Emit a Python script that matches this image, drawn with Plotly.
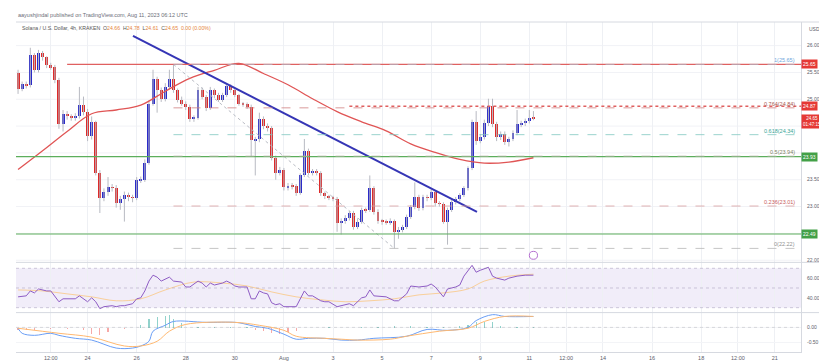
import plotly.graph_objects as go
import pandas as pd

# ---------------- DATA ----------------
start_time = "2023-07-21 04:00"   # first 4h candle
open_first = 25.49
close = [25.19, 25.28, 25.26, 25.82, 25.54, 25.87, 25.78, 25.63, 25.60, 25.36,
         24.53, 24.73, 24.68, 24.66, 24.68, 24.90, 24.77, 24.31, 24.57, 23.63,
         23.16, 23.27, 23.36, 23.35, 23.06, 23.14, 23.21, 23.17, 23.16, 23.49,
         23.50, 23.82, 24.92, 25.38, 25.17, 25.01, 25.23, 25.38, 25.17, 24.99,
         24.92, 24.86, 24.64, 24.66, 25.17, 25.05, 24.83, 25.17, 25.08, 24.99,
         25.08, 25.25, 25.17, 25.08, 24.92, 24.91, 24.86, 24.24, 24.26, 24.64,
         24.50, 24.46, 23.91, 23.63, 23.69, 23.36, 23.39, 23.38, 23.25, 23.58,
         24.04, 23.63, 23.65, 23.63, 23.25, 23.19, 23.16, 23.15, 22.70, 22.73,
         22.79, 22.88, 22.62, 22.72, 22.94, 22.93, 23.34, 22.90, 22.73, 22.72,
         22.71, 22.73, 22.53, 22.57, 22.62, 22.81, 22.99, 23.17, 22.97, 23.17,
         23.16, 23.27, 23.06, 23.05, 22.72, 22.94, 23.08, 23.14, 23.21, 23.34,
         23.71, 24.57, 24.22, 24.29, 24.55, 24.88, 24.53, 24.29, 24.35, 24.20,
         24.26, 24.37, 24.53, 24.55, 24.59, 24.66, 24.65]
high = [25.55, 25.33, 25.33, 25.96, 25.86, 25.92, 25.90, 25.80, 25.68, 25.64,
        25.40, 24.80, 24.78, 24.72, 24.74, 25.23, 25.05, 24.82, 24.68, 24.60,
        23.68, 23.34, 23.55, 23.42, 23.40, 23.20, 23.28, 23.26, 23.22, 23.55,
        23.56, 23.88, 24.98, 25.55, 25.42, 25.22, 25.30, 25.55, 25.65, 25.20,
        25.05, 24.96, 24.90, 24.70, 25.23, 25.22, 25.08, 25.23, 25.20, 25.12,
        25.12, 25.30, 25.28, 25.20, 25.10, 24.95, 24.94, 24.90, 24.30, 24.75,
        24.68, 24.55, 24.50, 23.95, 23.74, 23.72, 23.44, 23.44, 23.42, 23.62,
        24.26, 24.08, 23.70, 23.70, 23.66, 23.28, 23.22, 23.20, 23.18, 22.78,
        22.84, 22.92, 22.92, 22.78, 22.98, 22.98, 23.58, 23.38, 22.95, 22.77,
        22.76, 22.78, 22.76, 22.62, 22.66, 22.85, 23.03, 23.45, 23.22, 23.22,
        23.22, 23.32, 23.30, 23.10, 23.08, 22.98, 23.12, 23.18, 23.25, 23.38,
        23.75, 24.62, 24.78, 24.35, 24.62, 25.01, 25.01, 24.58, 24.40, 24.40,
        24.30, 24.42, 24.80, 24.60, 24.64, 24.80, 24.78]
low = [25.10, 25.15, 25.20, 25.22, 25.50, 25.50, 25.72, 25.58, 25.55, 25.30,
       24.45, 24.40, 24.62, 24.60, 24.60, 24.64, 24.70, 24.22, 24.25, 23.58,
       22.88, 23.10, 23.20, 23.28, 22.98, 22.94, 22.72, 23.10, 23.08, 23.12,
       23.44, 23.46, 23.78, 24.88, 24.75, 24.95, 24.96, 25.18, 25.12, 24.94,
       24.88, 24.80, 24.58, 24.58, 24.62, 25.00, 24.78, 24.80, 25.02, 24.95,
       24.95, 25.04, 25.12, 25.04, 24.88, 24.86, 24.82, 23.94, 23.58, 24.20,
       24.44, 24.40, 23.86, 23.50, 23.58, 23.30, 23.30, 23.32, 23.20, 23.22,
       23.55, 23.58, 23.58, 23.58, 23.20, 23.14, 23.12, 23.10, 22.53, 22.48,
       22.68, 22.74, 22.57, 22.58, 22.68, 22.88, 22.90, 22.85, 22.68, 22.66,
       22.66, 22.66, 22.22, 22.40, 22.52, 22.58, 22.77, 22.95, 22.92, 22.93,
       23.10, 23.12, 23.00, 23.00, 22.68, 22.29, 22.90, 23.04, 23.10, 23.18,
       23.30, 23.68, 24.15, 24.18, 24.25, 24.50, 24.48, 24.22, 24.24, 24.15,
       24.12, 24.22, 24.33, 24.48, 24.50, 24.55, 24.61]

# red moving average, read at candle indices
ma_idx = [0, 6, 12, 18, 24, 30, 36, 42, 48, 54, 60, 66, 72, 78, 84, 90, 96, 102, 108, 114, 120, 126]
ma_val = [23.69, 24.04, 24.40, 24.73, 24.80, 24.89, 25.15, 25.39, 25.54, 25.67, 25.48,
          25.27, 25.01, 24.77, 24.58, 24.41, 24.17, 24.01, 23.88, 23.81, 23.83, 23.91]

# RSI readings (candle index, value)
rsi_idx = [0, 2, 3, 4, 5, 7, 8, 9, 10, 11, 13, 14, 15, 16, 17, 18, 19, 20, 21, 23, 24, 25, 26,
           28, 29, 30, 31, 32, 33, 34, 35, 37, 38, 40, 41, 42, 44, 45, 46, 47, 48, 50, 51, 52,
           53, 54, 56, 57, 58, 59, 60, 61, 62, 63, 64, 65, 67, 68, 70, 71, 72, 74, 75, 76, 78,
           79, 81, 82, 84, 85, 86, 87, 89, 90, 92, 93, 95, 96, 98, 100, 101, 102, 104, 105,
           107, 108, 109, 111, 112, 113, 115, 116, 117, 119, 120, 122, 124, 126]
rsi_val = [41, 42, 47, 45, 49, 47, 47, 42, 36, 39, 39, 39, 42, 39, 36, 40, 36, 29, 31, 32, 31,
           32, 32, 34, 39, 40, 47, 57, 63, 61, 57, 61, 57, 56, 51, 51, 57, 55, 51, 55, 53, 55,
           57, 55, 52, 51, 51, 39, 39, 47, 45, 44, 35, 33, 34, 31, 31, 31, 47, 42, 42, 37, 36,
           36, 31, 32, 34, 32, 40, 41, 48, 42, 41, 41, 37, 37, 44, 52, 51, 52, 54, 51, 41, 49,
           51, 53, 62, 73, 66, 68, 71, 62, 60, 58, 60, 62, 63, 63]
rsi_ma_idx = [0, 6, 12, 18, 24, 30, 36, 43, 50, 56, 62, 68, 74, 80, 86, 92, 98, 104, 110, 114, 120, 126]
rsi_ma_val = [48, 47, 44, 41, 37, 39, 48, 56, 55, 52, 46, 41, 38, 36, 37, 39, 43, 45, 49, 57, 62, 64]

# MACD readings
macd_idx = [0, 1, 4, 8, 10, 14, 18, 24, 28, 30, 32, 33, 36, 38, 46, 53, 55, 58, 61, 65, 68,
            71, 75, 79, 83, 87, 95, 100, 105, 110, 112, 116, 119, 126]
macd_val = [-0.03, -0.20, -0.27, -0.20, -0.27, -0.37, -0.43, -0.70, -0.70, -0.63, -0.47,
            -0.13, 0.07, 0.20, 0.17, 0.17, 0.13, 0.03, -0.03, -0.23, -0.40, -0.37, -0.37,
            -0.43, -0.43, -0.37, -0.30, -0.07, -0.10, 0.00, 0.23, 0.43, 0.37, 0.37]
signal_idx = [0, 10, 18, 26, 30, 34, 37, 41, 53, 59, 65, 68, 75, 79, 83, 91, 95, 103, 110, 114, 119, 126]
signal_val = [-0.03, -0.20, -0.33, -0.63, -0.63, -0.47, -0.13, 0.10, 0.17, 0.07, -0.10,
              -0.30, -0.37, -0.40, -0.43, -0.40, -0.30, -0.13, -0.03, 0.20, 0.37, 0.37]
hist_idx = [0, 2, 4, 8, 12, 16, 18, 20, 22, 26, 30, 32, 34, 36, 37, 38, 40, 44, 48, 52, 56,
            58, 60, 62, 64, 66, 68, 72, 76, 80, 84, 88, 92, 96, 100, 104, 108, 110, 112, 114,
            116, 118, 122, 126]
hist_val = [-0.08, -0.08, -0.06, -0.03, -0.03, -0.08, -0.20, -0.25, -0.15, -0.05, 0.10, 0.30,
            0.35, 0.40, 0.43, 0.30, 0.15, 0.04, 0.03, 0.03, 0.02, -0.08, -0.12, -0.18, -0.20,
            -0.15, -0.10, -0.02, 0.02, -0.02, 0.02, 0.04, 0.05, 0.05, 0.03, 0.03, 0.05, 0.08,
            0.18, 0.20, 0.20, 0.06, 0.03, 0.02]

# levels
res_top = 25.65          # red solid resistance
res_mid = 24.87          # red resistance (dotted)
sup_hi = 23.93           # green support
sup_lo = 22.49           # green support
fib_levels = [1, 0.764, 0.618, 0.5, 0.236, 0]
fib_prices = [25.65, 24.84, 24.34, 23.94, 23.01, 22.22]
fib_label_colors = ["#6fa8dc", "#a85a50", "#3aa597", "#7d7f62", "#c86060", "#909090"]
fib_line_colors = ["#b0b8c8", "#d08080", "#80c8c0", "#b8b8a8", "#d8a0a0", "#b8b8b8"]
fib_start_idx = 38
fib_low_idx = 92
res_top_start_idx = 12
res_mid_start_idx = 81
trend_idx = [28.1, 112.2]
trend_price = [26.18, 22.90]
event_idx = 126

x_ticks = ["2023-07-22 12:00", "2023-07-24", "2023-07-26", "2023-07-28", "2023-07-30",
           "2023-08-01", "2023-08-03", "2023-08-05", "2023-08-07", "2023-08-09", "2023-08-11",
           "2023-08-12 12:00", "2023-08-14", "2023-08-16", "2023-08-18", "2023-08-19 12:00",
           "2023-08-21"]
x_tick_text = ["12:00", "24", "26", "28", "30", "Aug", "3", "5", "7", "9", "11", "12:00",
               "14", "16", "18", "12:00", "21"]
x_range = ["2023-07-21 02:00", "2023-08-22 01:40"]
price_ticks = [22.0, 23.0, 23.5, 25.0, 25.5, 26.0]
price_grid = [22.0, 22.5, 23.0, 23.5, 24.0, 24.5, 25.0, 25.5, 26.0]

# ---------------- BUILD ----------------
t0 = pd.Timestamp(start_time)
step = pd.Timedelta(hours=4)
n = len(close)
times = [t0 + step * i for i in range(n)]
opens = [open_first] + close[:-1]


def t_at(i):
    return t0 + step * i


UP = "#2b2bc8"
DN = "#dd2a2a"
GRID = "#eef0f4"
AX = "#d6d9e0"
TXT = "#5d606b"
FONT = "Liberation Sans, Arial, sans-serif"

fig = go.Figure()

# wicks
wx, wy = [], []
for i in range(n):
    wx += [times[i], times[i], None]
    wy += [low[i], high[i], None]
fig.add_trace(go.Scatter(x=wx, y=wy, mode="lines", line=dict(color="#b8bac2", width=1),
                         hoverinfo="skip", showlegend=False, xaxis="x", yaxis="y"))

# bodies
base = [min(o, c) for o, c in zip(opens, close)]
height = [max(abs(c - o), 0.012) for o, c in zip(opens, close)]
colors = [UP if c >= o else DN for o, c in zip(opens, close)]
fig.add_trace(go.Bar(x=times, y=height, base=base, width=4 * 3600 * 1000 * 0.72,
                     marker=dict(color=colors, line=dict(width=0)), showlegend=False,
                     xaxis="x", yaxis="y"))

# moving average
fig.add_trace(go.Scatter(x=[t_at(i) for i in ma_idx], y=ma_val, mode="lines",
                         line=dict(color="#e05555", width=1.3, shape="spline"),
                         showlegend=False, xaxis="x", yaxis="y"))

# trend line
fig.add_trace(go.Scatter(x=[t_at(i) for i in trend_idx], y=trend_price, mode="lines",
                         line=dict(color="#3535b5", width=2), showlegend=False,
                         xaxis="x", yaxis="y"))

# fib diagonal
fig.add_trace(go.Scatter(x=[t_at(fib_start_idx), t_at(fib_low_idx)],
                         y=[fib_prices[0], fib_prices[-1]], mode="lines",
                         line=dict(color="#b8bbc3", width=1, dash="dot"), showlegend=False,
                         xaxis="x", yaxis="y"))

# RSI
fig.add_trace(go.Scatter(x=[t_at(i) for i in rsi_ma_idx], y=rsi_ma_val, mode="lines",
                         line=dict(color="rgba(255,183,77,0.55)", width=1, shape="spline"),
                         showlegend=False, xaxis="x", yaxis="y2"))
fig.add_trace(go.Scatter(x=[t_at(i) for i in rsi_idx], y=rsi_val, mode="lines",
                         line=dict(color="#8e5cc4", width=1), showlegend=False,
                         xaxis="x", yaxis="y2"))

# MACD
hcol = ["rgba(38,166,154,0.5)" if v >= 0 else "rgba(239,83,80,0.5)" for v in hist_val]
fig.add_trace(go.Bar(x=[t_at(i) for i in hist_idx], y=hist_val, width=4 * 3600 * 1000 * 0.3,
                     marker=dict(color=hcol, line=dict(width=0)), showlegend=False,
                     xaxis="x", yaxis="y3"))
fig.add_trace(go.Scatter(x=[t_at(i) for i in macd_idx], y=macd_val, mode="lines",
                         line=dict(color="#6a9ef5", width=1, shape="spline"),
                         showlegend=False, xaxis="x", yaxis="y3"))
fig.add_trace(go.Scatter(x=[t_at(i) for i in signal_idx], y=signal_val, mode="lines",
                         line=dict(color="#ffb870", width=1, shape="spline"),
                         showlegend=False, xaxis="x", yaxis="y3"))

shapes = []
x_end = pd.Timestamp(x_range[1])
# faint price grid
for g in price_grid:
    shapes.append(dict(type="line", xref="paper", yref="y", x0=0, x1=1, y0=g, y1=g,
                       line=dict(color="#f1f2f6", width=1), layer="below"))
# horizontal levels
shapes.append(dict(type="line", xref="x", yref="y", x0=t_at(res_top_start_idx), x1=x_end,
                   y0=res_top, y1=res_top, line=dict(color="#e06060", width=1.3)))
shapes.append(dict(type="line", xref="x", yref="y", x0=t_at(res_mid_start_idx), x1=x_end,
                   y0=res_mid, y1=res_mid, line=dict(color="#e06060", width=1.4, dash="dot")))
for lv in (sup_hi, sup_lo):
    shapes.append(dict(type="line", xref="paper", yref="y", x0=0, x1=1, y0=lv, y1=lv,
                       line=dict(color="#5cae5c", width=1.1)))
for p, col in zip(fib_prices, fib_line_colors):
    shapes.append(dict(type="line", xref="x", yref="y", x0=t_at(fib_start_idx), x1=x_end,
                       y0=p, y1=p, line=dict(color=col, width=0.8, dash="dash")))
# RSI band
shapes.append(dict(type="rect", xref="paper", yref="y2", x0=0, x1=1, y0=30, y1=70,
                   fillcolor="rgba(149,117,205,0.13)", line=dict(width=0), layer="below"))
for lv in (30, 50, 70):
    shapes.append(dict(type="line", xref="paper", yref="y2", x0=0, x1=1, y0=lv, y1=lv,
                       line=dict(color="rgba(150,140,175,0.55)", width=0.8, dash="dot")))
shapes.append(dict(type="line", xref="paper", yref="y3", x0=0, x1=1, y0=0, y1=0,
                   line=dict(color="rgba(150,150,160,0.4)", width=0.8, dash="dot")))
# pane separators
for yp in (0.2716, 0.1194):
    shapes.append(dict(type="line", xref="paper", yref="paper", x0=0, x1=1.0318, y0=yp, y1=yp,
                       line=dict(color=AX, width=1)))
shapes.append(dict(type="line", xref="paper", yref="paper", x0=1.0318, x1=1.0318, y0=-0.04,
                   y1=1.0, line=dict(color=AX, width=1)))
shapes.append(dict(type="line", xref="paper", yref="paper", x0=0, x1=1.0318, y0=1.0, y1=1.0,
                   line=dict(color=AX, width=1)))
# event marker
shapes.append(dict(type="circle", xref="x", yref="paper",
                   x0=t_at(event_idx) - pd.Timedelta(hours=4), x1=t_at(event_idx) + pd.Timedelta(hours=4),
                   y0=0.281, y1=0.305, line=dict(color="#b46fd0", width=1), fillcolor="white"))

ann = []
ann.append(dict(xref="paper", yref="paper", x=0.0, y=1.021, xanchor="left", yanchor="middle",
                text="aayushjindal published on TradingView.com, Aug 11, 2023 06:12 UTC",
                showarrow=False, font=dict(size=5.5, color="#6b6e78", family=FONT)))
oc = "#e6863c"
ann.append(dict(xref="paper", yref="paper", x=0.005, y=0.982, xanchor="left", yanchor="middle",
                text=("Solana / U.S. Dollar, 4h, KRAKEN  O<span style='color:%s'>24.66</span>"
                      "  H<span style='color:%s'>24.78</span>  L<span style='color:%s'>24.61</span>"
                      "  C<span style='color:%s'>24.65</span>  <span style='color:%s'>0.00 (0.00%%)</span>")
                     % (oc, oc, oc, oc, oc),
                showarrow=False, font=dict(size=5.2, color="#555", family=FONT)))
ann.append(dict(xref="paper", yref="paper", x=1.008, y=0.98, xanchor="left", yanchor="middle",
                text="USD", showarrow=False, font=dict(size=5, color=TXT, family=FONT)))
for lvl, p, col in zip(fib_levels, fib_prices, fib_label_colors):
    ann.append(dict(xref="paper", yref="y", x=0.995, y=p, xanchor="right", yanchor="bottom",
                    text="%s(%.2f)" % (lvl, p), showarrow=False, yshift=-1,
                    font=dict(size=5.5, color=col, family=FONT)))


def axis_label(y, txt, bg, size=5):
    ann.append(dict(xref="paper", yref="y", x=1.0, y=y, xanchor="left", yanchor="middle",
                    text=txt, showarrow=False, bgcolor=bg, borderpad=1,
                    font=dict(size=size, color="white", family=FONT)))


axis_label(res_top, "%.2f" % res_top, "#e53935")
axis_label(res_mid, "%.2f" % res_mid, "#e53935")
axis_label(close[-1] - 0.06, "%.2f<br>01:47:15" % close[-1], "#e53935", size=4.5)
axis_label(sup_hi, "%.2f" % sup_hi, "#43a047")
axis_label(sup_lo, "%.2f" % sup_lo, "#43a047")

fig.update_layout(
    width=827, height=361,
    margin=dict(l=8, r=34, t=14, b=12),
    paper_bgcolor="white", plot_bgcolor="white",
    barmode="overlay", bargap=0,
    showlegend=False,
    font=dict(family=FONT, size=5.5, color=TXT),
    shapes=shapes, annotations=ann,
    xaxis=dict(domain=[0, 1], anchor="y3", type="date", range=x_range,
               tickmode="array", tickvals=x_ticks, ticktext=x_tick_text,
               showgrid=True, gridcolor=GRID, gridwidth=1, ticks="",
               tickfont=dict(size=5.5, color=TXT), showline=True, linecolor=AX,
               zeroline=False, fixedrange=True),
    yaxis=dict(domain=[0.2716, 1], anchor="x", side="right", range=[21.96, 26.44],
               tickmode="array", tickvals=price_ticks,
               ticktext=["%.2f" % v for v in price_ticks],
               showgrid=False, ticks="", showline=True, linecolor=AX,
               tickfont=dict(size=5, color=TXT), zeroline=False, ticklabelstandoff=4),
    yaxis2=dict(domain=[0.1194, 0.2716], anchor="x", side="right", range=[25, 76],
                tickmode="array", tickvals=[40, 60], ticktext=["40.00", "60.00"],
                showgrid=False, ticks="", showline=True, linecolor=AX,
                tickfont=dict(size=5, color=TXT), zeroline=False, ticklabelstandoff=4),
    yaxis3=dict(domain=[0, 0.1194], anchor="x", side="right", range=[-0.833, 0.5],
                tickmode="array", tickvals=[0, -0.5], ticktext=["0.00", "-0.50"],
                showgrid=True, gridcolor="#f3f4f7", ticks="", showline=True, linecolor=AX,
                tickfont=dict(size=5, color=TXT), zeroline=False, ticklabelstandoff=4),
)

fig.write_html("out.html")
